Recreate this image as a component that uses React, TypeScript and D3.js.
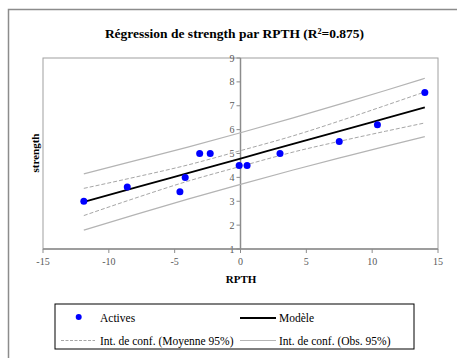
import React from "react";
import * as d3 from "d3";

const pointsX = [-11.9, -8.6, -4.6, -4.2, -3.1, -2.3, -0.1, 0.5, 3.0, 7.5, 10.4, 14.0];
const pointsY = [3.0, 3.6, 3.4, 4.0, 5.0, 5.0, 4.5, 4.5, 5.0, 5.5, 6.2, 7.55];

const bandX = [-11.9, -8, -4, 0, 4, 8, 11, 14];
const modelY = [2.97, 3.57, 4.18, 4.79, 5.4, 6.01, 6.47, 6.93];
const meanUpper = [3.54, 4.01, 4.52, 5.12, 5.74, 6.45, 7.01, 7.58];
const meanLower = [2.4, 3.13, 3.84, 4.46, 5.06, 5.57, 5.93, 6.28];
const obsUpper = [4.15, 4.7, 5.27, 5.87, 6.49, 7.14, 7.64, 8.15];
const obsLower = [1.79, 2.44, 3.09, 3.71, 4.31, 4.88, 5.3, 5.71];

const xTicks = [-15, -10, -5, 0, 5, 10, 15];
const yTicks = [1, 2, 3, 4, 5, 6, 7, 8, 9];

const title = "Régression de strength par RPTH (R²=0.875)";
const xTitle = "RPTH";
const yTitle = "strength";
const legendItems = ["Actives", "Modèle", "Int. de conf. (Moyenne 95%)", "Int. de conf. (Obs. 95%)"];

const FONT = "'Liberation Serif', 'DejaVu Serif', serif";

export default function App() {
  const W = 457, H = 358;
  const left = 43, right = 438, top = 58, bottom = 249;
  const x = d3.scaleLinear().domain([-15, 15]).range([left, right]);
  const y = d3.scaleLinear().domain([1, 9]).range([bottom, top]);
  const line = (ys: number[]) =>
    d3.line<number>().x((_, i) => x(bandX[i])).y((d) => y(d)).curve(d3.curveMonotoneX)(ys) || "";
  const x0 = x(0);
  const tickColor = "#595959";

  return (
    <svg width={W} height={H} style={{ position: "absolute", left: 0, top: 0, background: "#fff" }}>
      <rect x={0} y={0} width={W} height={H} fill="#fff" />
      {/* outer chart border */}
      <path d={`M8.5,${H} L8.5,9.5 L${W},9.5`} fill="none" stroke="#8c8c8c" strokeWidth={1.5} />
      <text x={234.5} y={38} textAnchor="middle" fontFamily={FONT} fontWeight="bold" fontSize={13.5} fill="#000">
        {title}
      </text>
      {/* plot area */}
      <rect x={left} y={top} width={right - left} height={bottom - top} fill="none" stroke="#a0a0a0" strokeWidth={1} />
      {/* y axis at x=0 */}
      <line x1={x0} x2={x0} y1={top} y2={bottom} stroke="#8c8c8c" strokeWidth={1.5} />
      {yTicks.map((t) => (
        <g key={"y" + t}>
          <line x1={x0 - 4} x2={x0} y1={y(t)} y2={y(t)} stroke="#8c8c8c" strokeWidth={1} />
          <text x={x0 - 6} y={y(t) + 3.5} textAnchor="end" fontFamily={FONT} fontSize={10} fill={tickColor}>
            {t}
          </text>
        </g>
      ))}
      {/* x axis at bottom */}
      <line x1={left} x2={right} y1={bottom} y2={bottom} stroke="#8c8c8c" strokeWidth={1.5} />
      {xTicks.map((t) => (
        <g key={"x" + t}>
          <line x1={x(t)} x2={x(t)} y1={bottom} y2={bottom + 4} stroke="#8c8c8c" strokeWidth={1} />
          <text x={x(t)} y={bottom + 16} textAnchor="middle" fontFamily={FONT} fontSize={10} fill={tickColor}>
            {t}
          </text>
        </g>
      ))}
      <text x={241} y={283} textAnchor="middle" fontFamily={FONT} fontWeight="bold" fontSize={11}>
        {xTitle}
      </text>
      <text
        transform={`translate(39,153) rotate(-90)`}
        textAnchor="middle"
        fontFamily={FONT}
        fontWeight="bold"
        fontSize={11}
      >
        {yTitle}
      </text>
      {/* bands */}
      <path d={line(obsUpper)} fill="none" stroke="#b4b4b4" strokeWidth={1.2} />
      <path d={line(obsLower)} fill="none" stroke="#b4b4b4" strokeWidth={1.2} />
      <path d={line(meanUpper)} fill="none" stroke="#a6a6a6" strokeWidth={1} strokeDasharray="4,2" />
      <path d={line(meanLower)} fill="none" stroke="#a6a6a6" strokeWidth={1} strokeDasharray="4,2" />
      <path d={line(modelY)} fill="none" stroke="#000" strokeWidth={1.8} />
      {pointsX.map((px, i) => (
        <circle key={"p" + i} cx={x(px)} cy={y(pointsY[i])} r={3.5} fill="#0000ff" />
      ))}
      {/* legend */}
      <rect x={55} y={304} width={359} height={45} fill="#fff" stroke="#000" strokeWidth={1} />
      <circle cx={78.7} cy={317} r={3} fill="#0000ff" />
      <text x={100} y={321.5} fontFamily={FONT} fontSize={11.5}>{legendItems[0]}</text>
      <line x1={240} x2={276} y1={318} y2={318} stroke="#000" strokeWidth={1.8} />
      <text x={279} y={321.5} fontFamily={FONT} fontSize={11.5}>{legendItems[1]}</text>
      <line x1={61} x2={95} y1={340.5} y2={340.5} stroke="#a6a6a6" strokeWidth={1} strokeDasharray="3,1.5" />
      <text x={100} y={344.5} fontFamily={FONT} fontSize={11.5}>{legendItems[2]}</text>
      <line x1={240} x2={276} y1={340.5} y2={340.5} stroke="#b4b4b4" strokeWidth={1.2} />
      <text x={279} y={344.5} fontFamily={FONT} fontSize={11.5}>{legendItems[3]}</text>
    </svg>
  );
}
